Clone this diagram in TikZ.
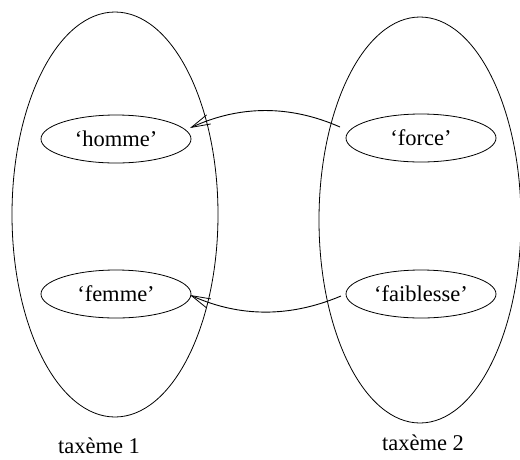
\documentclass[tikz,border=0pt]{standalone}
\usepackage{fontspec}
\setmainfont{Liberation Serif}
\usetikzlibrary{shapes.geometric,arrows.meta}
\begin{document}
\begin{tikzpicture}[x=1pt,y=-1pt,
  every node/.style={font=\fontsize{22.5}{27}\selectfont},
  taxeme/.style={draw,ellipse,inner sep=0pt,line width=0.8pt},
  seme/.style={draw,ellipse,inner sep=0pt,minimum width=150pt,minimum height=48pt,line width=0.8pt},
  link/.style={line width=0.9pt,-{Straight Barb[length=19pt,width=10pt,line width=0.8pt]}}]
  \useasboundingbox (0,0) rectangle (520,459);
  % the two taxemes
  \node[taxeme,minimum width=206pt,minimum height=405pt] (t1) at (115,214.5) {};
  \node[taxeme,minimum width=202pt,minimum height=406pt] (t2) at (420,220) {};
  % their semes
  \node[seme] (homme) at (116,139) {‘homme’};
  \node[seme] (femme) at (116,294) {‘femme’};
  \node[seme] (force) at (421,138) {‘force’};
  \node[seme] (faiblesse) at (421,294) {‘faiblesse’};
  % free ends of the connectors
  \coordinate (s1) at (340,127);
  \coordinate (s2) at (341,296);
  \coordinate (e1) at (190,128);
  \coordinate (e2) at (190,295);
  \draw[link] (s1) .. controls (290,105) and (240,105) .. (e1);
  \draw[link] (s2) .. controls (290,317.5) and (240,317.5) .. (e2);
  % captions
  \node[anchor=base] (c1) at (99,453) {taxème 1};
  \node[anchor=base] (c2) at (423,450) {taxème 2};
\end{tikzpicture}
\end{document}
